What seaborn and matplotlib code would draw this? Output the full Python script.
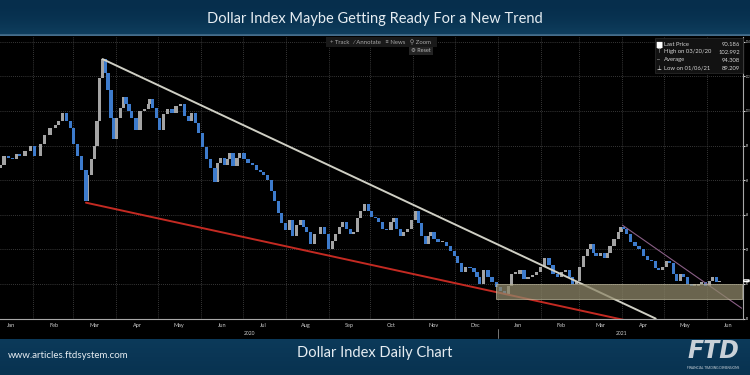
import numpy as np
import pandas as pd
import matplotlib
matplotlib.use("Agg")
import matplotlib.pyplot as plt
import matplotlib.dates as mdates
import matplotlib.transforms as mtransforms
from matplotlib.patches import Rectangle, FancyBboxPatch
import seaborn as sns

# ---- data (days after 2020-01-08, DXY close) ----
start_date = pd.Timestamp("2020-01-08")
day_offsets = [0, 3, 6, 9, 12, 14, 18, 22, 25, 29,
               32, 36, 40, 42, 45, 48, 51, 53, 56, 59,
               62, 63, 66, 68, 70, 72, 74, 76, 78, 80,
               82, 84, 87, 89, 91, 93, 95, 98, 101, 104,
               107, 108, 110, 113, 115, 118, 121, 124, 127, 130,
               133, 136, 138, 141, 143, 146, 149, 152, 155, 157,
               159, 162, 164, 166, 168, 171, 173, 176, 179, 182,
               185, 188, 190, 193, 196, 198, 201, 203, 206, 209,
               211, 214, 217, 219, 221, 224, 227, 231, 234, 237,
               240, 242, 245, 247, 250, 253, 255, 258, 260, 263,
               266, 268, 271, 273, 276, 279, 282, 284, 286, 289,
               291, 294, 297, 300, 302, 304, 307, 309, 311, 313,
               316, 319, 322, 325, 328, 330, 333, 336, 339, 342,
               344, 346, 349, 352, 355, 358, 361, 364, 367, 369,
               372, 375, 378, 381, 384, 387, 390, 393, 396, 399,
               402, 405, 408, 411, 413, 416, 418, 421, 424, 426,
               428, 430, 433, 436, 438, 440, 443, 446, 448, 450,
               452, 455, 458, 461, 464, 467, 470, 473, 475, 478,
               481, 483, 486, 488, 491, 493, 496, 499, 501, 504,
               506, 509, 512, 514, 517, 519]
closes = [96.9, 97.4, 97.3, 97.2, 97.5, 97.4, 97.7, 98.0, 97.4, 98.1,
          98.6, 99.0, 99.2, 99.4, 99.9, 99.4, 99.0, 98.1, 97.4, 96.6,
          94.8, 96.3, 97.2, 98.0, 99.4, 101.9, 103.0, 102.2, 101.2, 99.6,
          98.4, 99.6, 100.2, 100.8, 100.4, 100.0, 99.6, 98.9, 100.0, 100.1,
          100.4, 100.7, 100.2, 99.6, 98.9, 99.8, 100.1, 99.9, 100.3, 100.4,
          99.7, 99.4, 99.9, 99.3, 98.7, 97.9, 97.2, 96.7, 95.9, 97.0,
          97.3, 96.9, 97.2, 97.6, 96.8, 97.3, 97.6, 97.2, 97.0, 96.9,
          96.6, 96.5, 96.3, 96.0, 95.4, 94.8, 94.1, 93.5, 93.1, 93.7,
          92.8, 93.4, 93.7, 93.3, 93.0, 92.3, 92.9, 93.3, 92.9, 92.0,
          92.5, 92.9, 93.3, 93.6, 93.2, 92.9, 93.0, 93.8, 94.2, 94.6,
          94.2, 93.9, 93.8, 93.6, 93.2, 93.1, 93.6, 93.8, 93.2, 92.8,
          93.0, 93.2, 93.7, 94.2, 93.5, 92.8, 92.3, 92.8, 93.0, 92.6,
          92.4, 92.4, 92.2, 91.9, 91.6, 91.2, 90.7, 91.0, 90.9, 90.7,
          90.4, 90.0, 90.8, 90.4, 90.1, 89.8, 89.6, 89.4, 89.9, 90.6,
          90.6, 90.8, 90.3, 90.4, 90.5, 90.7, 91.0, 91.5, 91.1, 90.6,
          90.4, 90.7, 90.8, 90.4, 90.0, 90.2, 91.0, 91.6, 92.0, 92.3,
          91.8, 91.6, 91.8, 91.5, 91.8, 92.2, 92.6, 93.0, 93.3, 93.2,
          92.9, 92.4, 92.2, 92.0, 91.6, 91.4, 91.3, 90.9, 90.8, 91.0,
          91.3, 91.2, 90.6, 90.2, 90.6, 90.4, 90.0, 89.9, 89.9, 90.0,
          90.1, 89.9, 90.2, 90.4, 90.1, 90.2]
first_open = 96.7

# drawn trend lines and support zone
upper_days, upper_vals = [74, 473], [103.0, 88.0]
lower_days, lower_vals = [62, 457], [94.7, 87.8]
purple_days, purple_vals = [449, 535], [93.4, 88.6]
zone_days, zone_vals = [358, 535], [89.11, 89.98]

legend_rows = ["Last Price", "High on 03/20/20", "Average", "Low on 01/06/21"]
legend_vals = ["90.186", "102.992", "94.308", "89.209"]
legend_marks = ["■", "⊤", "--", "⊥"]
y_ticks = [88, 90, 92, 94, 96, 98, 100, 102, 104]

df = pd.DataFrame({"date": start_date + pd.to_timedelta(day_offsets, unit="D"),
                   "close": closes})
df["open"] = [first_open] + closes[:-1]
df["up"] = df["close"] >= df["open"]

sns.set_style("dark")
plt.rcParams["font.family"] = ["Lato", "DejaVu Sans"]

fig = plt.figure(figsize=(7.5, 3.75), dpi=100, facecolor="black")
ax = fig.add_axes([0, 0.150, 0.9907, 0.751])
ax.set_facecolor("black")

UP, DOWN = "#a4a4a4", "#3d7bcc"
for is_up, color in [(True, UP), (False, DOWN)]:
    part = df[df["up"] == is_up]
    h = (part["close"] - part["open"]).to_numpy()
    h = np.where(np.abs(h) < 0.08, 0.08, h)
    ax.bar(part["date"], h, bottom=part["open"], width=2.4,
           color=color, linewidth=0, zorder=3)

def line_df(days, vals):
    return pd.DataFrame({"date": start_date + pd.to_timedelta(days, unit="D"),
                         "val": vals})

sns.lineplot(data=line_df(upper_days, upper_vals), x="date", y="val",
             color="#cfcfc4", lw=1.4, ax=ax, zorder=4)
sns.lineplot(data=line_df(lower_days, lower_vals), x="date", y="val",
             color="#c42a22", lw=1.4, ax=ax, zorder=4)
sns.lineplot(data=line_df(purple_days, purple_vals), x="date", y="val",
             color="#8a5f86", lw=0.8, ax=ax, zorder=4)

z0 = mdates.date2num(start_date + pd.Timedelta(days=zone_days[0]))
z1 = mdates.date2num(start_date + pd.Timedelta(days=zone_days[1]))
ax.add_patch(Rectangle((z0, zone_vals[0]), z1 - z0, zone_vals[1] - zone_vals[0],
                       facecolor="#8e8769", alpha=0.75, edgecolor="#c9c2a6",
                       lw=0.6, zorder=5))

ax.set_xlim(start_date, start_date + pd.Timedelta(days=536))
ax.set_ylim(87.99, 104.27)
ax.set_xlabel("")
ax.set_ylabel("")

# axes, grid, ticks
for side in ["top", "left"]:
    ax.spines[side].set_visible(False)
for side in ["bottom", "right"]:
    ax.spines[side].set_visible(True)
    ax.spines[side].set_color("#a8a8a8")
    ax.spines[side].set_linewidth(0.8)

# the y labels sit in the thin strip right of the axis, so keep them tiny
ax.yaxis.tick_right()
ax.set_yticks(y_ticks)
ax.set_yticklabels([str(v) for v in y_ticks])
ax.tick_params(axis="y", colors="#d8d8d8", labelsize=1.9, length=1.5, pad=0.4,
               direction="out", right=True)

ax.xaxis.set_major_locator(mdates.MonthLocator())
ax.xaxis.set_major_formatter(plt.NullFormatter())
ax.xaxis.set_minor_locator(mdates.MonthLocator(bymonthday=16))
ax.xaxis.set_minor_formatter(mdates.DateFormatter("%b"))
ax.tick_params(axis="x", which="major", colors="#a8a8a8", length=2.5, width=0.6)
ax.tick_params(axis="x", which="minor", length=0, labelsize=4, labelcolor="#cfcfcf", pad=3)

ax.grid(True, which="major", color="#4a4a4a", lw=0.6, linestyle=(0, (1, 1.5)))
ax.set_axisbelow(True)

trans = mtransforms.blended_transform_factory(ax.transData, ax.transAxes)
ax.text(start_date + pd.Timedelta(days=180), -0.052, "2020", transform=trans,
        ha="center", va="center", fontsize=3.6, color="#cfcfcf", clip_on=False)
ax.text(start_date + pd.Timedelta(days=448), -0.052, "2021", transform=trans,
        ha="center", va="center", fontsize=3.6, color="#cfcfcf", clip_on=False)
sep = start_date + pd.Timedelta(days=359)
ax.plot([sep, sep], [-0.035, -0.068], transform=trans, color="#8a8a8a",
        lw=0.6, clip_on=False)

# current price tag at the right edge
ax.text(1.0015, 90.186, "90.186", transform=mtransforms.blended_transform_factory(
        ax.transAxes, ax.transData), fontsize=1.1, color="black", va="center",
        ha="left", clip_on=False,
        bbox=dict(boxstyle="round,pad=0.2", fc="white", ec="white"))

# legend box top right
fig.patches.append(FancyBboxPatch((655 / 750, 1 - 73 / 375), 88 / 750, 35 / 375,
                                  boxstyle="square,pad=0", transform=fig.transFigure,
                                  fc="#121212", ec="#2c2c2c", lw=0.5, zorder=6))
for i, (lab, val, mk) in enumerate(zip(legend_rows, legend_vals, legend_marks)):
    yy = 1 - (44 + i * 8) / 375
    fig.text(659 / 750, yy, mk, fontsize=4 if i else 5.5, color="white",
             va="center", ha="center", family="DejaVu Sans", zorder=7)
    fig.text(664 / 750, yy, lab, fontsize=4.2, color="#d4d4d4", va="center", zorder=7)
    fig.text(740 / 750, yy, val, fontsize=4.2, color="#d4d4d4", va="center",
             ha="right", zorder=7)

# toolbar
fig.patches.append(FancyBboxPatch((326 / 750, 1 - 47 / 375), 111 / 750, 10 / 375,
                                  boxstyle="square,pad=0", transform=fig.transFigure,
                                  fc="#191919", ec="none", zorder=6))
fig.text(381 / 750, 1 - 42 / 375, "+ Track   ⁄ Annotate   ≡ News   ⚲ Zoom",
         fontsize=4.3, color="#a8a8a8", ha="center", va="center",
         family=["Lato", "DejaVu Sans"], zorder=7)
fig.patches.append(FancyBboxPatch((409 / 750, 1 - 55 / 375), 24 / 750, 8 / 375,
                                  boxstyle="square,pad=0", transform=fig.transFigure,
                                  fc="#242424", ec="none", zorder=6))
fig.text(421 / 750, 1 - 51 / 375, "⚙ Reset", fontsize=4, color="#b8b8b8",
         ha="center", va="center", family=["Lato", "DejaVu Sans"], zorder=7)

# header banner
top = fig.add_axes([0, 1 - 36 / 375, 1, 36 / 375])
grad = np.linspace(0, 1, 60).reshape(-1, 1)
c_top = np.array([6, 46, 76]) / 255
c_bot = np.array([16, 64, 96]) / 255
img = c_top + (c_bot - c_top) * grad[..., None] ** 2
img[-3:] = np.array([70, 110, 140]) / 255
top.imshow(img, aspect="auto", extent=[0, 1, 0, 1])
top.set_axis_off()
top.text(0.5, 0.47, "Dollar Index Maybe Getting Ready For a New Trend",
         ha="center", va="center", fontsize=10.5, color="#e6edf2")

# footer banner
bot = fig.add_axes([0, 0, 1, 36 / 375])
grad2 = np.linspace(0, 1, 40).reshape(-1, 1)
f_top = np.array([12, 58, 90]) / 255
f_bot = np.array([8, 50, 80]) / 255
img2 = f_top + (f_bot - f_top) * grad2[..., None]
bot.imshow(img2, aspect="auto", extent=[0, 1, 0, 1])
bot.set_axis_off()
bot.text(8 / 750, 0.55, "www.articles.ftdsystem.com", ha="left", va="center",
         fontsize=7, color="#e6edf2")
bot.text(0.5, 0.6, "Dollar Index Daily Chart", ha="center", va="center",
         fontsize=10.5, color="#e6edf2")
bot.text(713 / 750, 0.66, "FTD", ha="center", va="center", fontsize=17,
         fontweight="bold", style="italic", color="#c9d1d8", family="DejaVu Sans")
bot.text(713 / 750, 0.2, "FINANCIAL TRADING DIMENSIONS", ha="center", va="center",
         fontsize=2.3, color="#c9d1d8")

fig.savefig("out.png", dpi=100, facecolor="black")
